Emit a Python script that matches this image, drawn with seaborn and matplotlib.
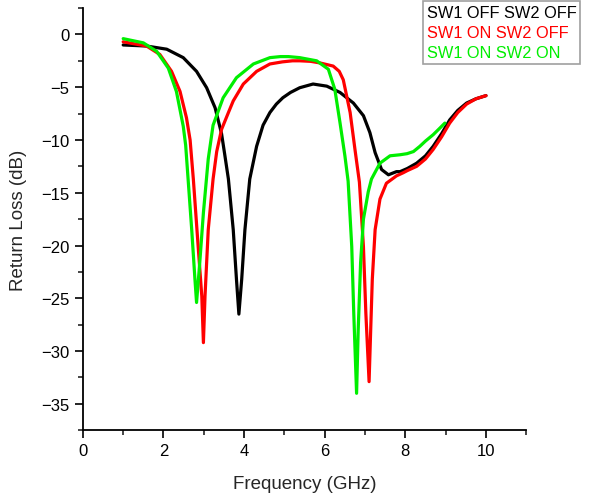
import pandas as pd
import seaborn as sns
import matplotlib.pyplot as plt
from matplotlib.ticker import MultipleLocator

# values (frequency in GHz, return loss in dB)
freq_off_off = [1.0, 1.58, 2.08, 2.49, 2.82, 3.07, 3.28, 3.44, 3.52, 3.61, 3.73, 3.81, 3.87,
                3.94, 4.02, 4.14, 4.31, 4.47, 4.64, 4.8, 4.96, 5.15, 5.38, 5.71, 6.05, 6.38,
                6.71, 6.96, 7.12, 7.25, 7.41, 7.58, 7.78, 7.87, 8.05, 8.28, 8.5, 8.69, 8.9,
                9.1, 9.3, 9.52, 9.75, 10.0]
rl_off_off = [-1.0, -1.1, -1.4, -2.2, -3.5, -5.05, -6.95, -9.4, -11.4, -13.7, -18.5, -23.2,
              -26.5, -23.2, -18.5, -13.7, -10.6, -8.6, -7.4, -6.6, -6.0, -5.5, -5.05, -4.7,
              -4.9, -5.5, -6.5, -7.7, -9.3, -11.2, -12.8, -13.3, -13.0, -13.0, -12.7, -12.2,
              -11.5, -10.6, -9.4, -8.1, -7.2, -6.5, -6.1, -5.8]

freq_on_off = [1.0, 1.58, 1.91, 2.2, 2.41, 2.57, 2.66, 2.74, 2.86, 2.95, 2.99, 3.03, 3.11,
               3.23, 3.32, 3.44, 3.6, 3.73, 3.98, 4.31, 4.64, 4.95, 5.2, 5.38, 5.65, 5.88,
               6.21, 6.36, 6.46, 6.63, 6.75, 6.86, 6.96, 7.02, 7.1, 7.14, 7.18, 7.25, 7.37,
               7.53, 7.78, 7.95, 8.05, 8.28, 8.5, 8.69, 8.9, 9.1, 9.3, 9.52, 9.75, 10.0]
rl_on_off = [-0.7, -1.1, -1.9, -3.5, -5.4, -7.9, -10.0, -13.7, -20.1, -24.8, -29.2, -24.8,
             -18.5, -13.7, -11.1, -9.0, -7.5, -6.3, -4.7, -3.5, -2.8, -2.6, -2.5, -2.5,
             -2.55, -2.7, -3.0, -3.5, -4.3, -7.4, -10.9, -14.0, -20.1, -26.4, -32.9, -28.0,
             -23.2, -18.5, -15.6, -14.1, -13.4, -13.1, -12.9, -12.5, -11.8, -10.9, -9.7,
             -8.4, -7.4, -6.6, -6.1, -5.8]

freq_on_on = [1.0, 1.5, 1.83, 2.12, 2.32, 2.49, 2.55, 2.61, 2.7, 2.78, 2.82, 2.9, 2.99,
              3.11, 3.23, 3.48, 3.81, 4.23, 4.64, 4.9, 5.1, 5.38, 5.8, 6.09, 6.25, 6.38,
              6.5, 6.58, 6.67, 6.72, 6.79, 6.83, 6.89, 6.96, 7.08, 7.16, 7.37, 7.62, 7.87,
              8.04, 8.2, 8.36, 8.5, 8.69, 8.85, 8.98]
rl_on_on = [-0.4, -0.8, -1.6, -3.2, -5.4, -8.7, -10.5, -13.7, -18.5, -23.2, -25.4, -21.6,
            -16.9, -11.8, -8.6, -6.0, -4.1, -2.8, -2.2, -2.1, -2.1, -2.2, -2.5, -3.3, -5.2,
            -8.4, -11.5, -13.9, -20.1, -26.4, -34.0, -28.0, -21.6, -17.5, -14.9, -13.7,
            -12.2, -11.5, -11.4, -11.3, -11.1, -10.6, -10.1, -9.5, -8.9, -8.4]

labels = ["SW1 OFF SW2 OFF", "SW1 ON SW2 OFF", "SW1 ON SW2 ON"]
colors = ["#000000", "#ff0000", "#00ee00"]


def build_frame():
    parts = []
    for lab, f, r in zip(labels, [freq_off_off, freq_on_off, freq_on_on],
                         [rl_off_off, rl_on_off, rl_on_on]):
        parts.append(pd.DataFrame({"freq": f, "rl": r, "state": lab}))
    return pd.concat(parts, ignore_index=True)


data = build_frame()

sns.set_style("ticks")
plt.rcParams['font.family'] = ['Liberation Sans', 'DejaVu Sans']

fig = plt.figure(figsize=(5.92, 5.02), dpi=100)
ax = fig.add_axes([0.140, 0.141, 0.749, 0.841])

sns.lineplot(data=data, x="freq", y="rl", hue="state", hue_order=labels,
             palette=dict(zip(labels, colors)), linewidth=2.3, sort=False,
             estimator=None, ax=ax)
for ln in ax.get_lines():
    ln.set_solid_joinstyle("round")

ax.set_xlim(0, 11)
ax.set_ylim(-37.5, 2.5)
ax.xaxis.set_major_locator(MultipleLocator(2))
ax.xaxis.set_minor_locator(MultipleLocator(1))
ax.yaxis.set_major_locator(MultipleLocator(5))
ax.yaxis.set_minor_locator(MultipleLocator(2.5))
ax.set_xticks([0, 2, 4, 6, 8, 10])
ax.tick_params(which="major", length=6, width=1.2, labelsize=12, colors="black")
ax.tick_params(which="minor", length=3.5, width=1.2)
for s in ["left", "bottom"]:
    ax.spines[s].set_linewidth(1.3)
    ax.spines[s].set_color("black")
sns.despine(ax=ax)

ax.set_xlabel("Frequency (GHz)", fontsize=13.5, labelpad=12)
ax.set_ylabel("Return Loss (dB)", fontsize=13.5, labelpad=10)

leg = ax.legend(loc="upper left", bbox_to_anchor=(0.766, 1.016), handlelength=0,
                handletextpad=0, fontsize=11.8, frameon=True, fancybox=False,
                borderpad=0.25, labelspacing=0.3, borderaxespad=0)
for h in leg.legend_handles:
    h.set_visible(False)
for t, c in zip(leg.get_texts(), colors):
    t.set_color(c)
leg.get_frame().set_edgecolor("#888888")
leg.get_frame().set_linewidth(1.2)
leg.set_clip_on(False)

fig.savefig("out.png", dpi=100)
